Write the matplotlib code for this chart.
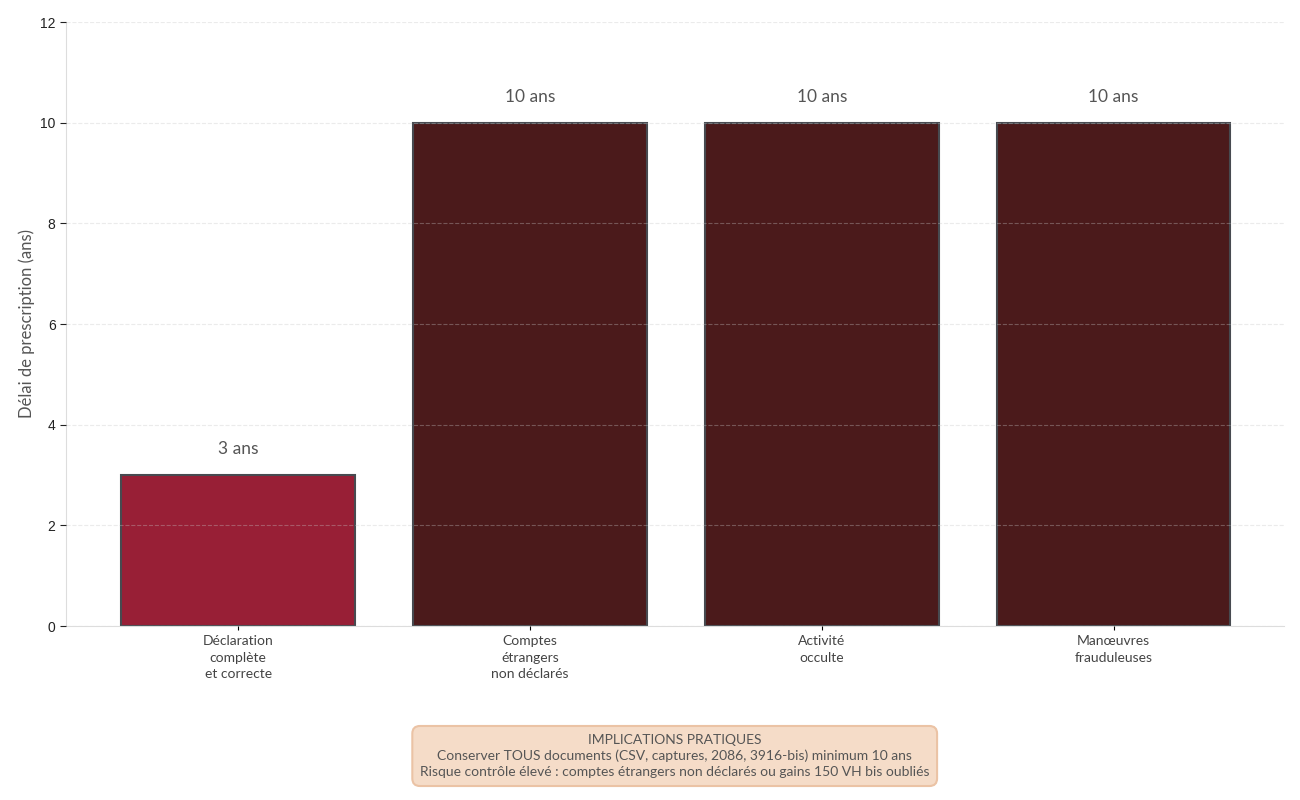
import matplotlib
matplotlib.use("Agg")
import matplotlib.pyplot as plt

# === DONNÉES ===
categories = ["Déclaration\ncomplète\net correcte", "Comptes\nétrangers\nnon déclarés",
              "Activité\nocculte", "Manœuvres\nfrauduleuses"]
delais = [3, 10, 10, 10]
couleurs = ["#981f36", "#4b1a1b", "#4b1a1b", "#4b1a1b"]
etiquettes = ["3 ans", "10 ans", "10 ans", "10 ans"]
yticks = [0, 2, 4, 6, 8, 10, 12]

plt.rcParams["font.family"] = ["Lato", "DejaVu Sans"]

fig = plt.figure(figsize=(13, 8), dpi=100)
ax = fig.add_axes([0.0508, 0.2175, 0.9372, 0.755])

x = range(len(categories))
bars = ax.bar(x, delais, width=0.8, color=couleurs, edgecolor="#474a50", linewidth=1.5, zorder=2)
for b, lab in zip(bars, etiquettes):
    ax.text(b.get_x() + b.get_width() / 2, b.get_height() + 0.35, lab,
            ha="center", va="bottom", fontsize=12.5, color="#555555")

ax.set_xlim(-0.59, 3.585)
ax.set_ylim(0, 12)
ax.set_yticks(yticks)
ax.set_yticklabels([str(t) for t in yticks], family="Liberation Sans")
ax.set_xticks(list(x))
ax.set_xticklabels(categories, fontsize=10, color="#444444", linespacing=1.45)
ax.tick_params(axis="y", labelsize=10, colors="#222222", length=4)
ax.tick_params(axis="x", length=3)
ax.set_ylabel("Délai de prescription (ans)", fontsize=12, color="#555555")

ax.grid(axis="y", ls="--", lw=0.8, color="#c8c8c8", alpha=0.35, zorder=3)
ax.set_axisbelow(False)
for s in ["top", "right"]:
    ax.spines[s].set_visible(False)
for s in ["left", "bottom"]:
    ax.spines[s].set_color("#dddddd")

fig.text(0.519, 0.055,
         "IMPLICATIONS PRATIQUES\n"
         "Conserver TOUS documents (CSV, captures, 2086, 3916-bis) minimum 10 ans\n"
         "Risque contrôle élevé : comptes étrangers non déclarés ou gains 150 VH bis oubliés",
         ha="center", va="center", fontsize=10, color="#555555", linespacing=1.4,
         bbox=dict(boxstyle="round,pad=0.55", fc="#f5dcc8", ec="#ebc3a5", lw=1.5))

fig.savefig("out.png", dpi=100)
